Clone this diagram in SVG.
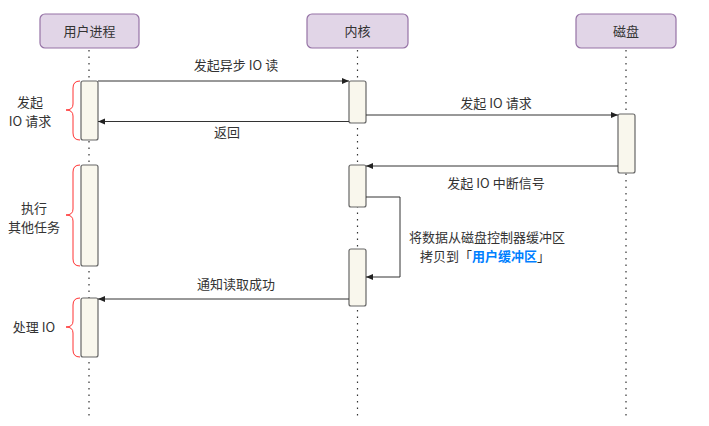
<svg xmlns="http://www.w3.org/2000/svg" width="709" height="426" viewBox="0 0 709 426">
<style>
text{font-family:"Noto Sans CJK SC","Liberation Sans",sans-serif;font-size:13px;fill:#333;text-anchor:middle}
.hdr{fill:#e1d5e7;stroke:#9673a6;stroke-width:1.2}
.life{stroke:#333;stroke-width:1.2;stroke-dasharray:1.5 5;fill:none}
.act{fill:#f9f7ed;stroke:#666;stroke-width:1.2}
.msg{stroke:#333;stroke-width:1;fill:none;marker-end:url(#ah)}
.brace{stroke:#ff3333;stroke-width:1;fill:none}
.blue{fill:#007fff;font-weight:bold}
</style>
<defs>
<marker id="ah" markerWidth="8" markerHeight="8" refX="7" refY="4" orient="auto" markerUnits="userSpaceOnUse">
<path d="M0,1 L7,4 L0,7 Z" fill="#222"/>
</marker>
</defs>
<rect width="709" height="426" fill="#fff"/>
<g id="lifelines">
<line class="life" x1="89" y1="50" x2="89" y2="417"/>
<line class="life" x1="357.5" y1="50" x2="357.5" y2="417"/>
<line class="life" x1="626" y1="50" x2="626" y2="417"/>
</g>
<g id="user">
<rect class="hdr" x="40" y="14" width="99" height="34" rx="5"/>
<text x="89.5" y="36">用户进程</text>
</g>
<g id="kernel">
<rect class="hdr" x="307" y="14" width="101" height="34" rx="5"/>
<text x="357.5" y="36">内核</text>
</g>
<g id="disk">
<rect class="hdr" x="576" y="14" width="100" height="34" rx="5"/>
<text x="626" y="36">磁盘</text>
</g>
<g id="activations">
<rect class="act" x="81" y="81" width="17" height="59" rx="2"/>
<rect class="act" x="81" y="165" width="17" height="101" rx="2"/>
<rect class="act" x="81" y="298" width="17" height="59" rx="2"/>
<rect class="act" x="349" y="81" width="17" height="42" rx="2"/>
<rect class="act" x="349" y="165" width="17" height="42" rx="2"/>
<rect class="act" x="349" y="249" width="17" height="57" rx="2"/>
<rect class="act" x="618" y="114" width="17" height="59" rx="2"/>
</g>
<g id="connectors">
<line class="msg" x1="98" y1="81" x2="349" y2="81"/>
<line class="msg" x1="349" y1="121.5" x2="98" y2="121.5"/>
<line class="msg" x1="366" y1="115" x2="618" y2="115"/>
<line class="msg" x1="618" y1="166" x2="366" y2="166"/>
<path class="msg" d="M366,197 H400 V277 H366"/>
<line class="msg" x1="349" y1="299" x2="98" y2="299"/>
</g>
<g id="labels">
<text x="236" y="70">发起异步 IO 读</text>
<text x="227" y="137">返回</text>
<text x="496" y="108">发起 IO 请求</text>
<text x="496" y="188">发起 IO 中断信号</text>
<text x="487" y="242">将数据从磁盘控制器缓冲区</text>
<text x="485" y="261">拷贝到「<tspan class="blue">用户缓冲区</tspan>」</text>
<text x="236" y="289">通知读取成功</text>
</g>
<g id="braces">
<path class="brace" d="M80,81 Q73,81 73,88 V104 Q73,110 66,110 Q73,110 73,116 V133 Q73,140 80,140"/>
<path class="brace" d="M80,165 Q73,165 73,172 V209 Q73,215 66,215 Q73,215 73,221 V259 Q73,266 80,266"/>
<path class="brace" d="M80,298 Q73,298 73,305 V321 Q73,327 66,327 Q73,327 73,333 V350 Q73,357 80,357"/>
<text x="30" y="107">发起</text>
<text x="30" y="126">IO 请求</text>
<text x="34" y="213">执行</text>
<text x="34" y="232">其他任务</text>
<text x="34" y="332">处理 IO</text>
</g>
</svg>
